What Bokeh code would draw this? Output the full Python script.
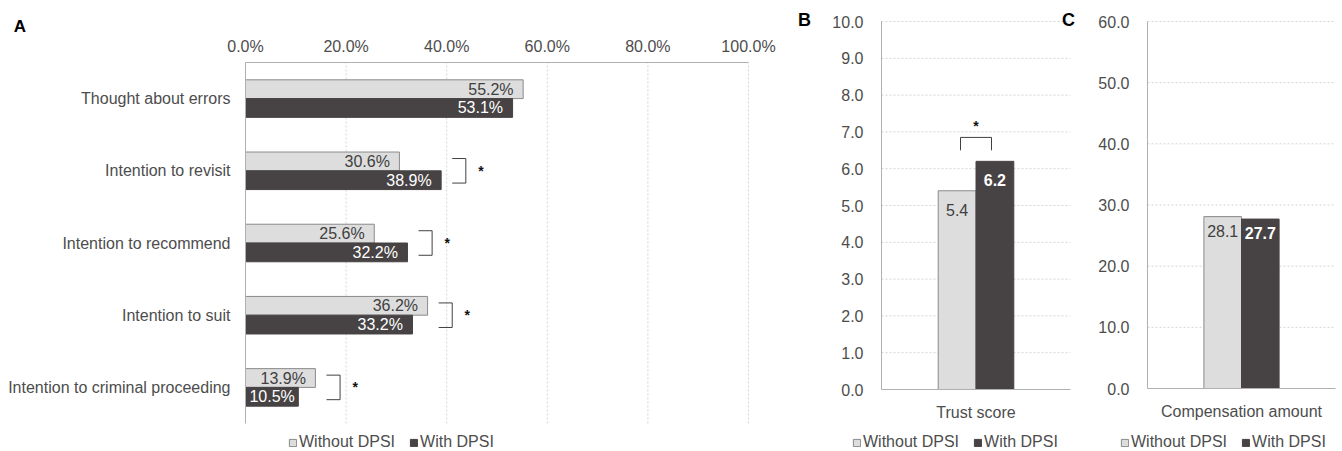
from bokeh.plotting import figure
from bokeh.models import (Range1d, FixedTicker, PrintfTickFormatter, Legend, LegendItem,
                          Label, LinearAxis)
from bokeh.embed import file_html
from bokeh.resources import INLINE
from bokeh.core.properties import value

FONT = "Liberation Sans"

# ---------------- data ----------------
series_names = ["Without DPSI", "With DPSI"]

a_categories = ["Thought about errors", "Intention to revisit", "Intention to recommend",
                "Intention to suit", "Intention to criminal proceeding"]
a_without = [55.2, 30.6, 25.6, 36.2, 13.9]
a_with = [53.1, 38.9, 32.2, 33.2, 10.5]
a_significant = [False, True, True, True, True]
a_ticks = [0, 20, 40, 60, 80, 100]

b_category = ["Trust score"]
b_without = [5.4]
b_with = [6.2]
b_significant = [True]
b_ticks = [0, 1, 2, 3, 4, 5, 6, 7, 8, 9, 10]

c_category = ["Compensation amount"]
c_without = [28.1]
c_with = [27.7]
c_ticks = [0, 10, 20, 30, 40, 50, 60]

# ---------------- style / layout ----------------
W, H = 1342, 451
LIGHT = "#dddddd"
LIGHT_LINE = "#8a8a8a"
DARK = "#474344"
AXIS = "#b0b0b0"
GRID = "#d4d4d4"
TXT = "#4d4d4d"


def x_range_for(v0, px0, v1, px1):
    k = (px1 - px0) / (v1 - v0)
    start = v0 - px0 / k
    return Range1d(start, start + W / k)


def y_range_for(v0, py0, v1, py1):
    k = (py0 - py1) / (v1 - v0)
    end = v1 + py1 / k
    return Range1d(end - H / k, end)


def px_x(r, px):
    return r.start + px / W * (r.end - r.start)


def px_y(r, py):
    return r.end - py / H * (r.end - r.start)


n = len(a_categories)
yc = [n - 1 - i for i in range(n)]

ranges_x = {
    "ax": x_range_for(0, 245, 100, 748),
    "bx": x_range_for(-0.5, 881, 0.5, 1070),
    "cx": x_range_for(-0.5, 1147, 0.5, 1335),
}
ranges_y = {
    "ay": y_range_for(-0.5, 423, n - 0.5, 62),
    "by": y_range_for(0, 389, 10, 21),
    "cy": y_range_for(0, 388, 60, 21),
}

p = figure(width=W, height=H, x_range=Range1d(0, W), y_range=Range1d(0, H),
           x_axis_location=None, y_axis_location=None,
           output_backend="svg", toolbar_location=None,
           min_border_left=0, min_border_right=0, min_border_top=0, min_border_bottom=0)
p.extra_x_ranges = ranges_x
p.extra_y_ranges = ranges_y
p.outline_line_color = None
p.background_fill_color = "white"
p.border_fill_color = "white"
p.grid.grid_line_color = None
p.grid.visible = False


def styled_axis(side, xr, yr, loc, ticks, standoff, bounds, fmt=None, overrides=None):
    ax = LinearAxis(x_range_name=xr, y_range_name=yr, fixed_location=loc,
                    ticker=FixedTicker(ticks=ticks), bounds=bounds)
    if fmt is not None:
        ax.formatter = PrintfTickFormatter(format=fmt)
    if overrides is not None:
        ax.major_label_overrides = overrides
    ax.axis_line_color = AXIS
    ax.axis_line_width = 1
    ax.major_tick_line_color = None
    ax.minor_tick_line_color = None
    ax.major_tick_out = 0
    ax.major_tick_in = 0
    ax.major_label_standoff = standoff
    ax.major_label_text_font = FONT
    ax.major_label_text_font_size = "16px"
    ax.major_label_text_color = TXT
    p.add_layout(ax, side)
    return ax


def letter(txt, xr, yr, px, py, size):
    p.add_layout(Label(x=px_x(ranges_x[xr], px), y=px_y(ranges_y[yr], py),
                       x_range_name=xr, y_range_name=yr, text=txt,
                       text_font=FONT, text_font_size=size, text_font_style="bold",
                       text_color="black", text_align="center", text_baseline="middle"))


def add_legend(r_light, r_dark, px):
    lg = Legend(items=[LegendItem(label=series_names[0], renderers=[r_light]),
                       LegendItem(label=series_names[1], renderers=[r_dark])],
                orientation="horizontal", location=(px, 0),
                glyph_width=9, glyph_height=9, label_standoff=2, spacing=14,
                padding=0, margin=0, border_line_color=None, background_fill_alpha=0,
                label_text_font=FONT, label_text_font_size="16px", label_text_color=TXT,
                label_height=18)
    p.add_layout(lg)


# ---------------- panel A ----------------
gx = [t for t in a_ticks if t > 0]
p.segment(x0=gx, x1=gx, y0=[-0.5] * len(gx), y1=[n - 0.5] * len(gx),
          x_range_name="ax", y_range_name="ay", line_color=GRID, line_dash="2 2", line_width=1)
styled_axis("above", "ax", "ay", n - 0.5, a_ticks, 8, (0, 100), fmt="%.1f%%")
styled_axis("left", "ax", "ay", 0, yc, 15, (-0.5, n - 0.5),
            overrides={yc[i]: a_categories[i] for i in range(n)})

off = 0.13
bh = 0.26
y_light = [y + off for y in yc]
y_dark = [y - off for y in yc]
ra1 = p.hbar(y=y_light, left=0, right=a_without, height=bh, fill_color=LIGHT, line_color=LIGHT_LINE,
             x_range_name="ax", y_range_name="ay")
ra2 = p.hbar(y=y_dark, left=0, right=a_with, height=bh, fill_color=DARK, line_color=DARK,
             x_range_name="ax", y_range_name="ay")
p.text(x=[max(v - 1.9, 9.8) for v in a_without], y=y_light, text=["%.1f%%" % v for v in a_without],
       x_range_name="ax", y_range_name="ay",
       text_font=value(FONT), text_font_size="16px", text_color="#404040",
       text_align="right", text_baseline="middle")
p.text(x=[max(v - 1.9, 9.8) for v in a_with], y=y_dark, text=["%.1f%%" % v for v in a_with],
       x_range_name="ax", y_range_name="ay",
       text_font=value(FONT), text_font_size="16px", text_color="white",
       text_align="right", text_baseline="middle")

bx0, bx1, by0, by1, sx, sy = [], [], [], [], [], []
for i in range(n):
    if not a_significant[i]:
        continue
    m = max(a_without[i], a_with[i])
    l, r = m + 2.2, m + 4.9
    top, bot = yc[i] + 0.17, yc[i] - 0.17
    bx0 += [l, l, r]; bx1 += [r, r, r]; by0 += [top, bot, top]; by1 += [top, bot, bot]
    sx.append(m + 7.9); sy.append(yc[i])
p.segment(x0=bx0, y0=by0, x1=bx1, y1=by1, line_color="#404040", line_width=1,
          x_range_name="ax", y_range_name="ay")
p.text(x=sx, y=sy, text=["*"] * len(sx), text_font=value(FONT), text_font_size="14px",
       text_font_style="bold", text_color="#111111", text_align="center", text_baseline="middle",
       x_range_name="ax", y_range_name="ay")
letter("A", "ax", "ay", 19.5, 25.5, "17px")
add_legend(ra1, ra2, 288)


# ---------------- panels B and C ----------------
def bar_panel(xr, yr, ticks, category, without, with_, label_drop, sig, legend_px):
    top = ticks[-1]
    gy = [t for t in ticks if t > 0]
    p.segment(x0=[-0.5] * len(gy), x1=[0.5] * len(gy), y0=gy, y1=gy,
              x_range_name=xr, y_range_name=yr, line_color=GRID, line_dash="2 2", line_width=1)
    styled_axis("left", xr, yr, -0.5, ticks, 18, (0, top), fmt="%.1f")
    styled_axis("below", xr, yr, 0, [0], 14, (-0.5, 0.5), overrides={0: category[0]})
    r1 = p.vbar(x=[-0.1], bottom=0, top=without, width=0.2, fill_color=LIGHT, line_color=LIGHT_LINE,
                x_range_name=xr, y_range_name=yr)
    r2 = p.vbar(x=[0.1], bottom=0, top=with_, width=0.2, fill_color=DARK, line_color=DARK,
                x_range_name=xr, y_range_name=yr)
    p.text(x=[-0.1], y=[v - label_drop for v in without], text=["%.1f" % v for v in without],
           x_range_name=xr, y_range_name=yr,
           text_font=value(FONT), text_font_size="16px", text_color="#404040",
           text_align="center", text_baseline="middle")
    p.text(x=[0.1], y=[v - label_drop for v in with_], text=["%.1f" % v for v in with_],
           x_range_name=xr, y_range_name=yr,
           text_font=value(FONT), text_font_size="16px", text_font_style="bold", text_color="white",
           text_align="center", text_baseline="middle")
    if sig is not None and sig[0]:
        m = max(without[0], with_[0])
        u = top / 10.0
        p.segment(x0=[-0.082, -0.082, 0.082], y0=[m + 0.65 * u] * 3,
                  x1=[0.082, -0.082, 0.082], y1=[m + 0.65 * u, m + 0.3 * u, m + 0.3 * u],
                  line_color="#404040", line_width=1, x_range_name=xr, y_range_name=yr)
        p.text(x=[0], y=[m + 0.95 * u], text=["*"], text_font=value(FONT), text_font_size="14px",
               text_font_style="bold", text_color="#111111", text_align="center",
               text_baseline="middle", x_range_name=xr, y_range_name=yr)
    add_legend(r1, r2, legend_px)


bar_panel("bx", "by", b_ticks, b_category, b_without, b_with, 0.52, b_significant, 852)
bar_panel("cx", "cy", c_ticks, c_category, c_without, c_with, 2.3, None, 1120)
letter("B", "bx", "by", 804, 19.5, "18px")
letter("C", "bx", "by", 1068, 19.5, "18px")

open("out.html", "w").write(file_html(p, INLINE))
